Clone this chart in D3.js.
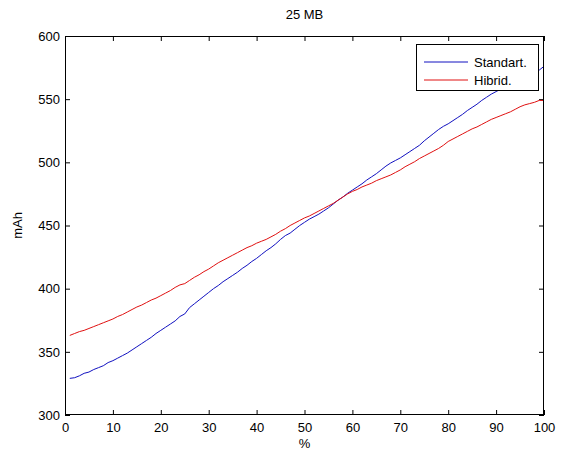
<!DOCTYPE html>
<html><head><meta charset="utf-8">
<script src="https://cdn.jsdelivr.net/npm/d3@7"></script>
<style>body{margin:0;background:#fff}svg{display:block}text{font-family:"Liberation Sans",Arial,sans-serif}</style>
</head><body>
<script>
const percent = d3.range(1, 101);
const standart = [329,329.5,331,333,334,336,337.5,339,341.5,343,345,347,349,351.5,354,356.5,359,361.5,364.5,367,369.5,372,374.5,378,380,385,388,391,394,397,400,402.5,405.5,408,410.5,413,416,418.5,421.5,424,427,430,432.5,435.5,439,442,444,447,450,452.5,455,457,459,461.5,464,467,470,472.5,475.5,478,480.5,483,486,488.5,491,494,497,499.5,501.5,503.5,506,508.5,511,513.5,517,520,523,526,528.5,530.5,533,535.5,538,541,543.5,546,549,551.5,554,556,558,560,562,564,566,567.5,569.5,571.5,573,576];
const hibrid = [363,364.5,366,367,368.5,370,371.5,373,374.5,376,378,379.5,381.5,383.5,385.5,387,389,391,392.5,394.5,396.5,398.5,401,403,404,406.5,409,411,413.5,415.5,418,420.5,422.5,424.5,426.5,428.5,430.5,432.5,434,436,437.5,439,441,443,445.5,447.5,450,452,454,456,457.5,459.5,461.5,463.5,465.5,467.5,470,472.5,475,477,478.5,480.5,482,483.5,485.5,487,488.5,490,492,494,496.5,498.5,500.5,503,505,507,509,511,513.5,516.5,518.5,520.5,522.5,524.5,526.5,528,530,532,534,535.5,537,538.5,540,542,544,545.5,546.5,547.5,549,549];
const xTicks = [0,10,20,30,40,50,60,70,80,90,100];
const yTicks = [300,350,400,450,500,550,600];
const seriesNames = ["Standart.", "Hibrid."];
const seriesColors = ["#1010c0", "#e01010"];

const W = 566, H = 452;
const L = 65, R = 544, T = 36, B = 415;
const svg = d3.select("body").append("svg").attr("width", W).attr("height", H);
const x = d3.scaleLinear().domain([0, 100]).range([L, R]);
const y = d3.scaleLinear().domain([300, 600]).range([B, T]);

const clipId = "clip";
svg.append("clipPath").attr("id", clipId).append("rect").attr("x", L).attr("y", T).attr("width", R - L).attr("height", B - T);

const tl = 5;
const xAxisB = d3.axisBottom(x).tickValues(xTicks).tickSizeInner(-tl).tickSizeOuter(0).tickPadding(8);
const xAxisT = d3.axisTop(x).tickValues(xTicks).tickSizeInner(-tl).tickSizeOuter(0).tickFormat("");
const yAxisL = d3.axisLeft(y).tickValues(yTicks).tickSizeInner(-tl).tickSizeOuter(0).tickPadding(5);
const yAxisR = d3.axisRight(y).tickValues(yTicks).tickSizeInner(-tl).tickSizeOuter(0).tickFormat("");

function style(g) {
  g.select(".domain").remove();
  g.selectAll(".tick line").attr("stroke", "#000");
  g.selectAll(".tick text").attr("fill", "#000").style("font-size", "13px");
}
svg.append("g").attr("transform", `translate(0,${B})`).call(xAxisB).call(style);
svg.append("g").attr("transform", `translate(0,${T})`).call(xAxisT).call(style);
svg.append("g").attr("transform", `translate(${L},0)`).call(yAxisL).call(style);
svg.append("g").attr("transform", `translate(${R},0)`).call(yAxisR).call(style);

const line = d3.line().x((d, i) => x(percent[i])).y(d => y(d));
[standart, hibrid].forEach((s, k) => {
  svg.append("path").datum(s).attr("d", line).attr("fill", "none")
    .attr("stroke", seriesColors[k]).attr("stroke-width", 1).attr("clip-path", `url(#${clipId})`);
});

svg.append("rect").attr("x", L + 0.5).attr("y", T + 0.5).attr("width", R - L - 1).attr("height", B - T - 1)
  .attr("fill", "none").attr("stroke", "#000").attr("stroke-width", 1);

const lg = svg.append("g");
lg.append("rect").attr("x", 416.5).attr("y", 44.5).attr("width", 122).attr("height", 46)
  .attr("fill", "#fff").attr("stroke", "#000");
seriesNames.forEach((n, k) => {
  const yy = 62 + k * 18;
  lg.append("line").attr("x1", 424).attr("x2", 468).attr("y1", yy).attr("y2", yy)
    .attr("stroke", seriesColors[k]).attr("stroke-width", 1);
  lg.append("text").attr("x", 474).attr("y", yy + 4.5).text(n).style("font-size", "13px");
});

svg.append("text").attr("x", (L + R) / 2).attr("y", 19).attr("text-anchor", "middle").style("font-size", "13px").text("25 MB");
svg.append("text").attr("x", (L + R) / 2).attr("y", 448).attr("text-anchor", "middle").style("font-size", "13px").text("%");
svg.append("text").attr("transform", `translate(22,${(T + B) / 2}) rotate(-90)`).attr("text-anchor", "middle").style("font-size", "13px").text("mAh");
</script>
</body></html>
